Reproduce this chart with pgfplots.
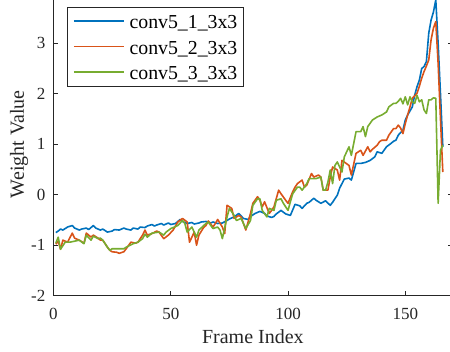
\documentclass[border=0pt]{standalone}
\usepackage{fontspec}
\setmainfont{Liberation Serif}
\usepackage{pgfplots}
\pgfplotsset{compat=1.18}
\definecolor{mblue}{rgb}{0,0.447,0.741}
\definecolor{morange}{rgb}{0.85,0.325,0.098}
\definecolor{mgreen}{rgb}{0.466,0.674,0.188}
\definecolor{axgray}{rgb}{0.15,0.15,0.15}
\begin{document}
\begin{tikzpicture}
\begin{axis}[
  name=ax,
  scale only axis,
  width=398.7pt, height=302.9pt,
  xmin=0, xmax=170, ymin=-2, ymax=4,
  xtick={0,50,100,150}, xticklabels={0,50,100,150},
  ytick={-2,-1,0,1,2,3}, yticklabels={-2,-1,0,1,2,3},
  tick align=inside,
  major tick length=4.3pt,
  axis line style={axgray, line width=0.8pt},
  every tick/.style={axgray, line width=0.8pt},
  tick label style={font=\fontsize{17}{20}\selectfont, text=axgray},
  xticklabel style={anchor=base, yshift=-23.6pt},
  yticklabel style={anchor=east, inner xsep=0pt, xshift=-8pt},
  every axis x label/.style={at={(axis description cs:0.5,0)}, anchor=base, yshift=-48.3pt, font=\fontsize{20}{24}\selectfont, text=axgray},
  every axis y label/.style={at={(axis description cs:-0.0865,0.5)}, rotate=90, anchor=center, font=\fontsize{20}{24}\selectfont, text=axgray},
  xlabel={Frame Index}, ylabel={Weight Value},
  legend cell align=left,
  legend image code/.code={\draw[#1, line width=1.6pt] (0pt,0pt) -- (50.5pt,0pt);},
  legend style={at={(axis description cs:0.0331,0.9541)}, anchor=north west,
    draw=axgray, line width=0.6pt, fill=white,
    font=\fontsize{19.8}{22}\selectfont, text=black,
    inner xsep=6pt, inner ysep=1pt, row sep=0pt,
    /tikz/every odd column/.append style={column sep=4.5pt},
    nodes={inner xsep=0pt, inner ysep=0pt, text height=20.5pt, text depth=5.2pt}},
]
\addplot[mblue, line width=1.6pt, line join=round] coordinates {
(1,-0.75)(2,-0.72)(3,-0.68)(4,-0.70)(6,-0.64)(8,-0.61)(9,-0.66)(11,-0.70)(12,-0.68)(14,-0.66)(15,-0.69)(17,-0.61)(18,-0.66)(20,-0.70)(21,-0.68)(23,-0.74)(25,-0.72)(26,-0.69)(28,-0.70)(30,-0.66)(31,-0.68)(33,-0.70)(34,-0.66)(36,-0.68)(37,-0.64)(39,-0.65)(40,-0.62)(42,-0.59)(43,-0.62)(44,-0.60)(46,-0.57)(47,-0.60)(49,-0.56)(50,-0.59)(52,-0.57)(54,-0.49)(55,-0.53)(57,-0.57)(59,-0.55)(60,-0.58)(62,-0.56)(63,-0.54)(65,-0.53)(67,-0.56)(68,-0.54)(70,-0.57)(72,-0.56)(74,-0.51)(75,-0.48)(77,-0.44)(79,-0.37)(81,-0.47)(83,-0.49)(84,-0.43)(86,-0.37)(88,-0.33)(90,-0.37)(91,-0.42)(93,-0.45)(94,-0.43)(95,-0.38)(97,-0.31)(99,-0.38)(101,-0.41)(103,-0.19)(105,-0.22)(106,-0.27)(108,-0.17)(109,-0.15)(111,-0.07)(112,-0.11)(114,-0.17)(116,-0.12)(118,-0.21)(119,-0.15)(121,-0.01)(122,0.13)(124,0.31)(126,0.33)(127,0.29)(129,0.62)(131,0.62)(133,0.64)(135,0.68)(137,0.75)(138,0.85)(140,0.82)(142,0.95)(144,1.02)(145,1.06)(146,1.08)(147,1.18)(149,1.28)(150,1.48)(151,1.58)(152,1.66)(153,1.74)(154,1.97)(155,2.14)(156,2.27)(157,2.50)(158,2.54)(159,2.64)(160,3.20)(161,3.46)(162,3.62)(163,3.86)(164,3.00)(165,2.00)(166,0.95)
};
\addlegendentry{conv5\_1\_3x3\hspace{4pt}}
\addplot[morange, line width=1.6pt, line join=round] coordinates {
(1,-0.98)(2,-0.92)(3,-1.08)(4,-0.90)(6,-0.94)(8,-0.76)(9,-0.86)(11,-0.90)(13,-0.96)(14,-0.76)(16,-0.84)(17,-0.80)(19,-0.86)(20,-0.90)(21,-0.90)(23,-1.04)(24,-1.10)(25,-1.13)(27,-1.14)(28,-1.16)(30,-1.13)(31,-1.07)(33,-0.94)(35,-0.96)(36,-0.94)(38,-0.80)(39,-0.70)(40,-0.80)(42,-0.77)(44,-0.72)(45,-0.74)(47,-0.87)(49,-0.80)(51,-0.70)(53,-0.54)(55,-0.47)(57,-0.54)(58,-0.94)(60,-0.74)(61,-1.00)(62,-0.80)(64,-0.65)(65,-0.61)(66,-0.52)(68,-0.64)(69,-0.57)(70,-0.49)(72,-0.64)(73,-0.77)(74,-0.21)(76,-0.27)(77,-0.47)(79,-0.41)(80,-0.44)(82,-0.70)(84,-0.37)(85,-0.17)(87,-0.04)(88,-0.11)(89,-0.24)(90,-0.14)(92,-0.37)(93,-0.31)(94,-0.24)(96,0.09)(97,0.02)(99,-0.11)(100,-0.17)(102,0.06)(103,0.15)(104,0.22)(106,0.29)(107,0.15)(108,0.19)(110,0.42)(111,0.35)(113,0.39)(114,0.35)(115,0.09)(117,0.09)(118,0.35)(119,0.55)(121,0.49)(122,0.29)(123,0.68)(126,0.58)(127,0.39)(129,0.82)(131,0.88)(132,0.78)(134,0.95)(135,0.85)(136,0.90)(138,0.98)(139,1.05)(140,1.08)(142,1.08)(143,1.18)(145,1.31)(146,1.31)(147,1.38)(148,1.32)(149,1.21)(150,1.41)(151,1.58)(152,1.74)(153,1.91)(154,1.96)(155,2.01)(156,2.15)(157,2.31)(158,2.44)(159,2.55)(160,2.67)(161,3.07)(162,3.30)(163,3.43)(164,2.60)(165,1.50)(166,0.45)
};
\addlegendentry{conv5\_2\_3x3\hspace{4pt}}
\addplot[mgreen, line width=1.6pt, line join=round] coordinates {
(1,-0.96)(2,-0.84)(3,-1.08)(5,-0.94)(7,-0.94)(9,-0.92)(11,-0.90)(13,-0.97)(14,-0.80)(16,-0.90)(17,-0.82)(19,-0.87)(20,-0.86)(21,-0.90)(23,-1.04)(24,-1.10)(25,-1.07)(27,-1.07)(30,-1.07)(31,-1.04)(34,-0.97)(36,-0.94)(38,-0.87)(39,-0.78)(40,-0.84)(42,-0.76)(45,-0.74)(46,-0.77)(47,-0.80)(48,-0.74)(50,-0.67)(53,-0.61)(55,-0.51)(56,-0.57)(57,-0.74)(59,-0.64)(61,-0.84)(62,-0.70)(65,-0.57)(66,-0.54)(68,-0.67)(70,-0.64)(71,-0.70)(72,-0.87)(74,-0.44)(75,-0.27)(77,-0.41)(78,-0.51)(80,-0.47)(82,-0.67)(84,-0.51)(85,-0.21)(87,-0.08)(88,-0.08)(89,-0.31)(91,-0.44)(92,-0.27)(94,-0.31)(95,-0.11)(97,-0.08)(98,-0.17)(100,-0.31)(101,-0.14)(102,0.02)(104,0.15)(105,0.15)(106,0.09)(108,0.22)(109,0.32)(111,0.32)(112,0.32)(114,0.35)(115,0.09)(116,0.09)(117,0.25)(118,0.49)(119,0.22)(120,0.58)(121,0.65)(123,0.45)(124,0.75)(126,0.95)(127,0.78)(129,1.25)(131,1.25)(132,1.35)(133,1.15)(134,1.35)(136,1.48)(138,1.54)(140,1.58)(142,1.64)(143,1.74)(145,1.81)(146,1.81)(147,1.85)(148,1.91)(149,1.80)(150,1.94)(151,1.78)(152,1.94)(153,1.84)(154,1.81)(155,1.97)(156,1.84)(157,1.88)(158,1.68)(159,1.61)(160,1.88)(161,1.88)(162,1.92)(163,1.91)(164,-0.17)(165,0.88)(166,0.98)
};
\addlegendentry{conv5\_3\_3x3\hspace{4pt}}
\end{axis}
\pgfresetboundingbox
\path[use as bounding box] ([shift={(-53.5pt,-56.3pt)}]ax.south west) rectangle ([shift={(396.5pt,295.7pt)}]ax.south west);
\end{tikzpicture}
\end{document}
